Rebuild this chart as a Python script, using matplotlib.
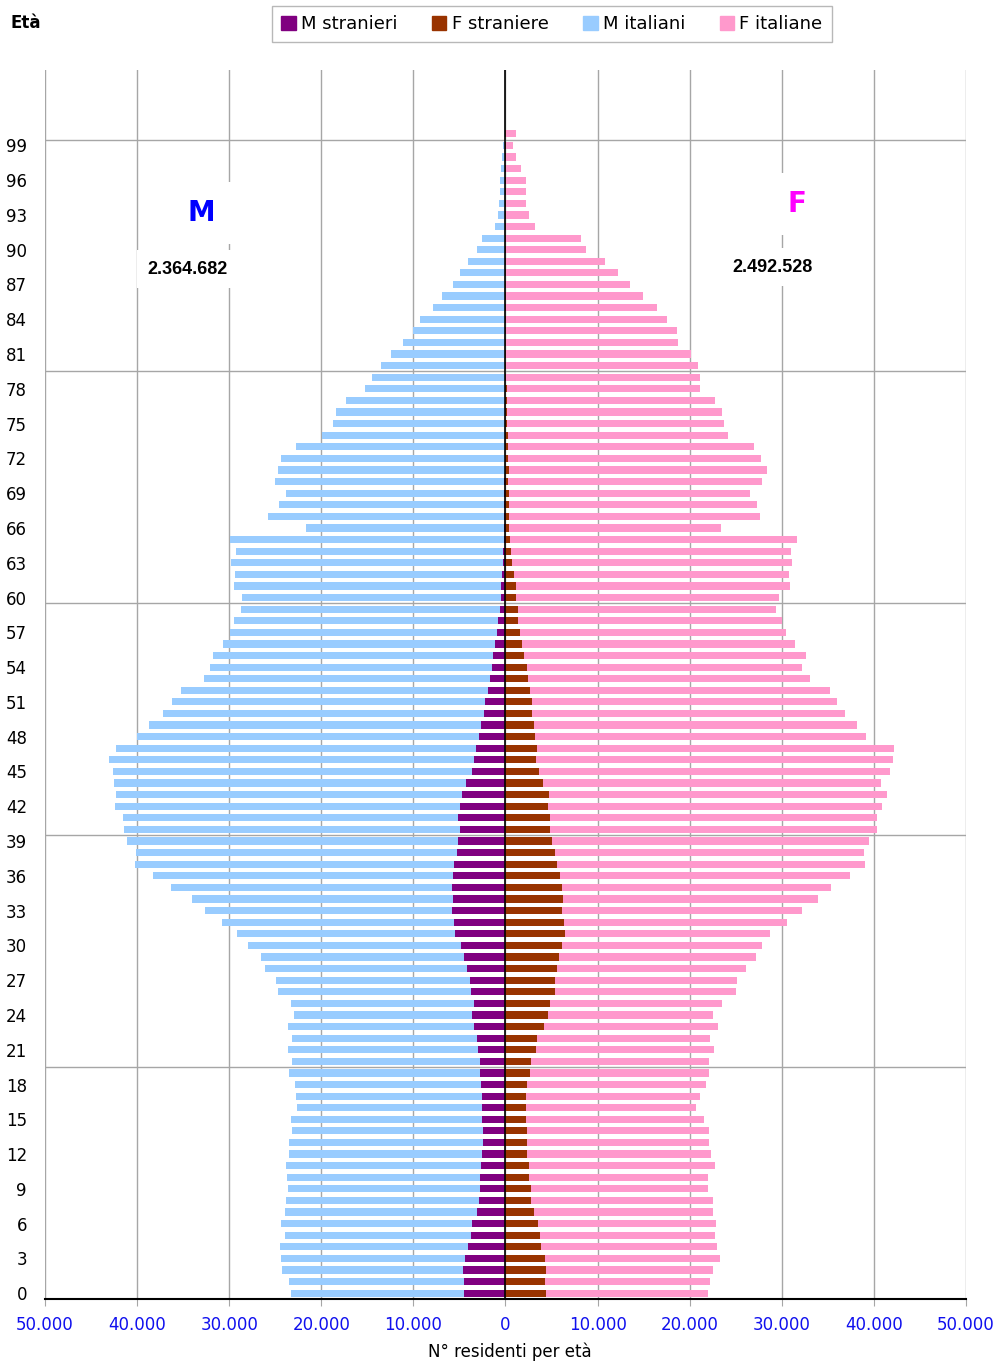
import matplotlib
matplotlib.use("Agg")
import matplotlib.pyplot as plt
from matplotlib.ticker import FuncFormatter
from matplotlib.patches import Patch

ages = list(range(101))

m_stranieri = [
    4490, 4490, 4640, 4420, 4100, 3800, 3660, 3120, 2830, 2750,
    2720, 2680, 2500, 2470, 2470, 2500, 2570, 2570, 2610, 2720,
    2720, 2940, 3120, 3370, 3660, 3440, 3770, 3880, 4200, 4490,
    4780, 5430, 5540, 5800, 5690, 5800, 5730, 5540, 5290, 5180,
    4930, 5110, 4970, 4670, 4280, 3630, 3410, 3150, 2870, 2650,
    2320, 2280, 1920, 1670, 1450, 1310, 1130, 950, 800, 650,
    540, 510, 400, 290, 290, 185, 170, 150, 140, 130,
    110, 100, 95, 90, 80, 70, 60, 55, 50, 45,
    40, 35, 30, 30, 25, 20, 20, 15, 15, 10,
    10, 5, 4, 3, 2, 2, 1, 1, 1, 0, 0,
]
m_italiani = [
    18770, 19060, 19680, 19970, 20430, 20190, 20760, 20790, 21050, 20910,
    21020, 21200, 21050, 21050, 20760, 20760, 20110, 20150, 20290, 20800,
    20470, 20690, 20110, 20290, 19270, 19860, 20940, 21010, 21890, 22070,
    23200, 23670, 25190, 26780, 28400, 30470, 32530, 34640, 34860, 35870,
    36450, 36380, 37420, 37580, 38220, 38950, 39630, 39100, 37130, 36010,
    34820, 33960, 33260, 31090, 30650, 30430, 29520, 28910, 28660, 28090,
    28120, 29020, 28990, 29530, 28920, 29680, 21540, 25610, 24500, 23750,
    24970, 24650, 24330, 22630, 19890, 18670, 18320, 17240, 15210, 14460,
    13510, 12440, 11060, 10010, 9300, 7810, 6830, 5680, 4960, 4090,
    3110, 2530, 1130, 840, 730, 620, 620, 480, 330, 260, 185,
]
f_straniere = [
    4420, 4310, 4420, 4310, 3870, 3760, 3550, 3110, 2790, 2790,
    2570, 2570, 2350, 2350, 2350, 2240, 2240, 2240, 2350, 2680,
    2790, 3330, 3440, 4200, 4630, 4850, 5390, 5390, 5610, 5820,
    6150, 6480, 6370, 6150, 6260, 6150, 5930, 5610, 5390, 5070,
    4850, 4850, 4630, 4740, 4090, 3660, 3330, 3440, 3220, 3110,
    2900, 2900, 2680, 2460, 2350, 2030, 1810, 1590, 1380, 1340,
    1160, 1160, 950, 730, 620, 510, 400, 400, 400, 400,
    290, 400, 290, 290, 290, 200, 180, 180, 120, 100,
    80, 70, 60, 50, 45, 40, 35, 30, 25, 20,
    15, 10, 8, 6, 5, 4, 3, 2, 2, 1, 1,
]
f_italiane = [
    17560, 17890, 18110, 18980, 19090, 18980, 19300, 19420, 19740, 19190,
    19410, 20170, 19960, 19740, 19740, 19310, 18480, 18880, 19420, 19410,
    19300, 19310, 18760, 18870, 17900, 18650, 19630, 19740, 20500, 21370,
    21690, 22230, 24180, 26030, 27650, 29170, 31450, 33400, 33520, 34380,
    35470, 35470, 36230, 36660, 36660, 38060, 38720, 38720, 35930, 35070,
    33940, 33110, 32520, 30570, 29830, 30590, 29610, 28860, 28630, 28020,
    28530, 29720, 29820, 30400, 30400, 31090, 23010, 27220, 26900, 26140,
    27580, 27980, 27440, 26680, 23860, 23550, 23320, 22560, 21000, 21050,
    20850, 20070, 18670, 18570, 17500, 16410, 14900, 13500, 12240, 10830,
    8740, 8200, 3210, 2560, 2240, 2240, 2240, 1700, 1160, 830, 1160,
]

tot_m = "2.364.682"
tot_f = "2.492.528"

C_MS = "#800080"
C_FS = "#993300"
C_MI = "#99ccff"
C_FI = "#ff99cc"
GRID = "#a6a6a6"

fig = plt.figure(figsize=(9.95, 13.61), dpi=100)
ax = fig.add_axes([45 / 995, 62 / 1361, 921 / 995, 1229 / 1361])

# barre impilate: stranieri all'interno, italiani all'esterno
h = 0.62
neg_ms = [-v for v in m_stranieri]
neg_mi = [-v for v in m_italiani]
ax.barh(ages, neg_ms, height=h, color=C_MS, zorder=3)
ax.barh(ages, neg_mi, left=neg_ms, height=h, color=C_MI, zorder=3)
ax.barh(ages, f_straniere, height=h, color=C_FS, zorder=3)
ax.barh(ages, f_italiane, left=f_straniere, height=h, color=C_FI, zorder=3)

ax.set_xlim(-50000, 50000)
ax.set_ylim(-0.5, 105.5)
ax.set_xticks(range(-50000, 50001, 10000))
ax.xaxis.set_major_formatter(FuncFormatter(lambda v, p: f"{abs(int(v)):,}".replace(",", ".")))
ax.set_yticks(list(range(0, 100, 3)))
ax.tick_params(axis="y", length=0, pad=13, labelsize=12)
ax.tick_params(axis="x", length=5, color=GRID, pad=7, labelsize=12, labelcolor="#1010ee")

ax.grid(axis="x", color=GRID, linewidth=1, zorder=0)
for yb in [19.5, 39.5, 59.5, 79.5, 99.5]:
    ax.axhline(yb, color=GRID, linewidth=1, zorder=0)
ax.axvline(0, color="black", linewidth=1.2, zorder=4)

for s in ["top", "left", "right"]:
    ax.spines[s].set_visible(False)
ax.spines["bottom"].set_linewidth(1.5)

box = dict(boxstyle="square,pad=0.6", facecolor="white", edgecolor="none")
fig.text(201 / 995, 1 - 213 / 1361, "M", color="#0000ff", fontsize=20, fontweight="bold",
         ha="center", va="center", bbox=box)
fig.text(188 / 995, 1 - 269 / 1361, tot_m, fontsize=13, fontweight="bold",
         family="Liberation Sans", ha="center", va="center", bbox=box)
fig.text(797 / 995, 1 - 204 / 1361, "F", color="#ff00ff", fontsize=20, fontweight="bold",
         ha="center", va="center", bbox=box)
fig.text(773 / 995, 1 - 267 / 1361, tot_f, fontsize=13, fontweight="bold",
         family="Liberation Sans", ha="center", va="center", bbox=box)

fig.text(11 / 995, 1 - 23 / 1361, "Età", fontsize=12, fontweight="bold", va="center")
fig.text(510 / 995, 1 - 1352 / 1361, "N° residenti per età", fontsize=12, ha="center", va="center")

handles = [Patch(color=C_MS, label="M stranieri"), Patch(color=C_FS, label="F straniere"),
           Patch(color=C_MI, label="M italiani"), Patch(color=C_FI, label="F italiane")]
leg = fig.legend(handles=handles, loc="center", bbox_to_anchor=(552 / 995, 1 - 24 / 1361),
                 ncol=4, fontsize=13, frameon=True, fancybox=False, handlelength=0.8,
                 handleheight=0.8, handletextpad=0.3, columnspacing=1.9, borderpad=0.5)
leg.get_frame().set_edgecolor(GRID)
leg.get_frame().set_linewidth(1)

fig.savefig("out.png", dpi=100)
